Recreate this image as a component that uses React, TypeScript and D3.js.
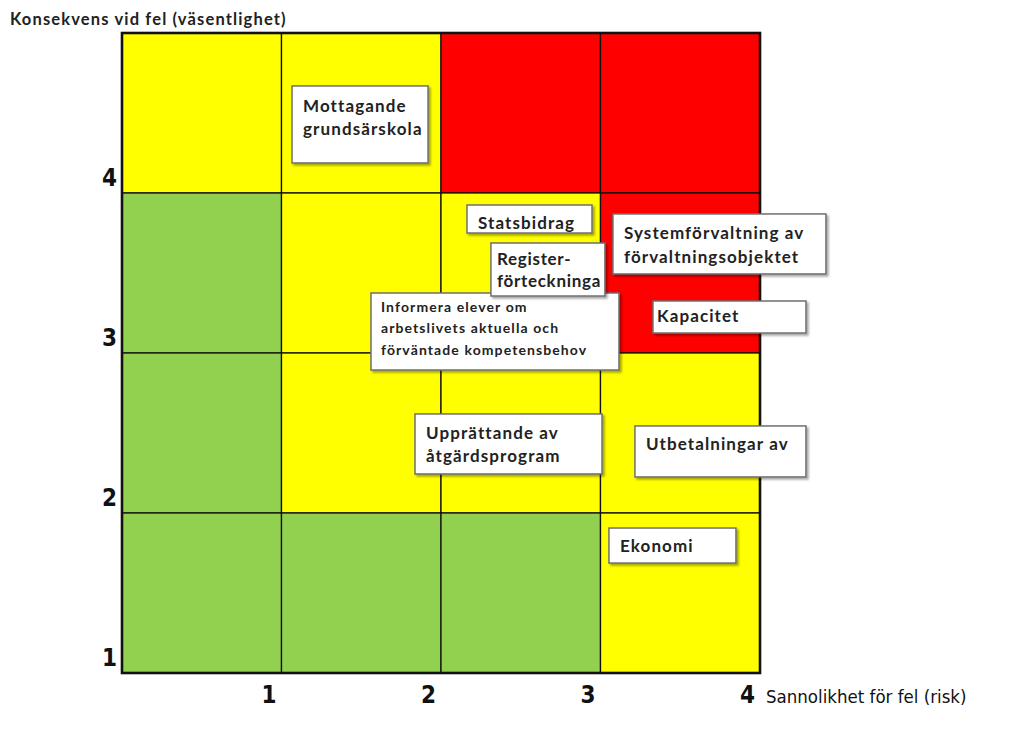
import React from "react";
import * as d3 from "d3";

const probTicks = [1, 2, 3, 4];
const consTicks = [1, 2, 3, 4];
// cell colours, rows from top (consequence 4) to bottom (consequence 1), columns probability 1..4
const cellRows = [
  ["Y", "Y", "R", "R"],
  ["G", "Y", "Y", "R"],
  ["G", "Y", "Y", "Y"],
  ["G", "G", "G", "Y"],
];
const riskNames = [
  ["Mottagande", "grundsärskola"],
  ["Statsbidrag"],
  ["Register-", "förteckninga"],
  ["Informera elever om", "arbetslivets aktuella och", "förväntade kompetensbehov"],
  ["Systemförvaltning av", "förvaltningsobjektet"],
  ["Kapacitet"],
  ["Upprättande av", "åtgärdsprogram"],
  ["Utbetalningar av"],
  ["Ekonomi"],
];
// box top-left anchor in data units (probability, consequence)
const riskProb = [1.066, 2.163, 2.313, 1.561, 3.078, 3.329, 1.837, 3.216, 3.053];
const riskCons = [4.669, 3.925, 3.6875, 3.375, 3.869, 3.325, 2.619, 2.544, 1.906];

const boxW = [136, 125, 114, 248, 213, 153, 187, 171, 127];
const boxH = [77, 28, 53, 77, 60, 32, 60, 51, 35];
const boxFont = [17, 17, 17, 14, 17, 17, 17, 17, 17];
const boxSpacing = [1.1, 1.1, 0.7, 1.1, 1.1, 1.1, 1.1, 1.1, 1.1];
const textOffset = [11, 11, 6, 10, 11, 4, 11, 11, 11];
const firstBase = [26, 24, 22, 19, 25, 21, 25, 24.5, 23.5];
const boxLine = [23, 0, 22, 21.3, 24, 0, 23.5, 0, 0];
const drawOrder = [0, 1, 3, 2, 4, 5, 6, 7, 8];

const colors: Record<string, string> = { Y: "#ffff00", R: "#ff0000", G: "#92d050" };

export default function App() {
  const x = d3.scaleLinear().domain([0, 4]).range([122, 760]);
  const y = d3.scaleLinear().domain([1, 5]).range([673, 33]);
  const font = "Lato, 'Open Sans', 'DejaVu Sans', sans-serif";
  const narrow = "'Liberation Sans Narrow', 'DejaVu Sans Condensed', 'Roboto', sans-serif";
  return (
    <svg width={1024} height={742} style={{ position: "absolute", left: 0, top: 0, background: "#fff" }}>
      <defs>
        <filter id="sh" x="-10%" y="-10%" width="130%" height="140%">
          <feDropShadow dx="2" dy="2" stdDeviation="1.2" floodColor="#000" floodOpacity="0.35" />
        </filter>
      </defs>
      <rect width={1024} height={742} fill="#fff" />
      {cellRows.map((row, ri) =>
        row.map((c, ci) => (
          <rect
            key={`${ri}-${ci}`}
            x={x(ci)}
            y={y(5 - ri)}
            width={x(ci + 1) - x(ci)}
            height={y(4 - ri) - y(5 - ri)}
            fill={colors[c]}
            stroke="#111"
            strokeWidth={1.3}
          />
        ))
      )}
      <rect x={x(0)} y={y(5)} width={x(4) - x(0)} height={y(1) - y(5)} fill="none" stroke="#111" strokeWidth={2.6} />
      <text x={10} y={25} fontFamily={font} fontWeight={700} fontSize={16.5} letterSpacing={1.15} fill="#222">
        Konsekvens vid fel (väsentlighet)
      </text>
      {consTicks.map((t) => (
        <text key={t} x={117} y={y(t) - 7} textAnchor="end" fontFamily={narrow} fontWeight={700} fontSize={24} fill="#111">
          {t}
        </text>
      ))}
      {probTicks.map((t) => (
        <text key={t} x={x(t) - 5} y={703} textAnchor="end" fontFamily={narrow} fontWeight={700} fontSize={24} fill="#111">
          {t}
        </text>
      ))}
      <text x={766} y={703} fontFamily={narrow} fontSize={18.5} fill="#111">
        Sannolikhet för fel (risk)
      </text>
      {drawOrder.map((i) => {
        const bx = x(riskProb[i]);
        const by = y(riskCons[i]);
        const lines = riskNames[i];
        return (
          <g key={i}>
            <rect x={bx} y={by} width={boxW[i]} height={boxH[i]} fill="#fff" stroke="#6f6f6f" strokeWidth={1.5} filter="url(#sh)" />
            {lines.map((l, li) => (
              <text
                key={li}
                x={bx + textOffset[i]}
                y={by + firstBase[i] + li * boxLine[i]}
                fontFamily={font}
                fontWeight={700}
                fontSize={boxFont[i]}
                letterSpacing={boxSpacing[i]}
                fill="#222"
              >
                {l}
              </text>
            ))}
          </g>
        );
      })}
    </svg>
  );
}
